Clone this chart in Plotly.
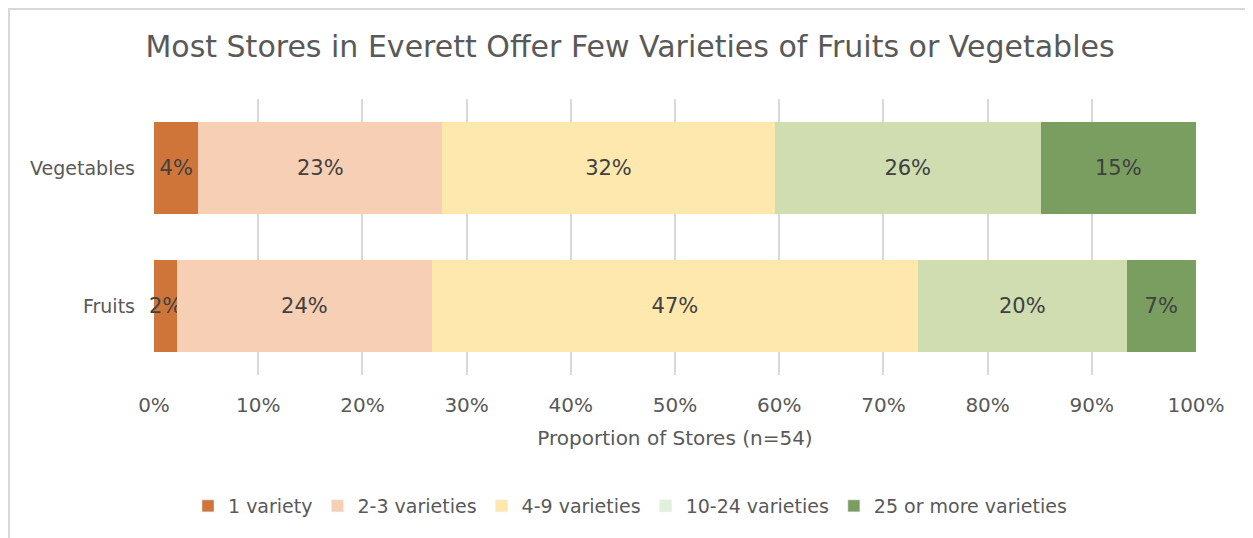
import plotly.graph_objects as go

categories = ["Vegetables", "Fruits"]
series_names = ["1 variety", "2-3 varieties", "4-9 varieties", "10-24 varieties", "25 or more varieties"]
veg_values = [0.0426, 0.2340, 0.3191, 0.2553, 0.1489]
fruit_values = [0.0222, 0.2444, 0.4667, 0.2000, 0.0667]
bar_colors = ["#D0753A", "#F7CFB4", "#FFE8AE", "#CFDDB0", "#7A9D60"]
legend_colors = ["#D0753A", "#F7CFB4", "#FFE8AE", "#E2EFDA", "#7A9D60"]
x_ticks = [0, 0.1, 0.2, 0.3, 0.4, 0.5, 0.6, 0.7, 0.8, 0.9, 1.0]
x_tick_labels = ["0%", "10%", "20%", "30%", "40%", "50%", "60%", "70%", "80%", "90%", "100%"]

FONT = "DejaVu Sans"
GREY = "#595959"

# plot area (figure px): x 146..1188, y 91..367
PL, PR, PT, PB = 146, 1188, 91, 367
PW, PH = PR - PL, PB - PT

fig = go.Figure()
for i, name in enumerate(series_names):
    fig.add_trace(go.Bar(
        y=categories, x=[veg_values[i], fruit_values[i]], orientation="h",
        name=name, marker=dict(color=bar_colors[i], line=dict(width=0)),
        texttemplate="%{x:.0%}", textposition="inside", insidetextanchor="middle",
        constraintext="none", textangle=0, cliponaxis=False,
        textfont=dict(family=FONT, size=21, color="#404040"),
        showlegend=False, hoverinfo="skip",
    ))
for i, name in enumerate(series_names):
    fig.add_trace(go.Bar(
        y=[None], x=[None], orientation="h", name=name,
        marker=dict(color=legend_colors[i]), showlegend=True,
    ))

fig.update_layout(
    barmode="stack", bargap=0.34,
    width=1253, height=538,
    margin=dict(l=PL, r=1253 - PR, t=PT, b=538 - PB),
    paper_bgcolor="white", plot_bgcolor="white",
    font=dict(family=FONT, color=GREY),
    title=dict(text="Most Stores in Everett Offer Few Varieties of Fruits or Vegetables",
               x=622 / 1253, xref="container", xanchor="center", y=1 - 38 / 538, yanchor="middle",
               font=dict(family=FONT, size=30, color=GREY), automargin=False),
    xaxis=dict(range=[0, 1], tickvals=x_ticks, ticktext=x_tick_labels, automargin=False,
               showgrid=True, gridcolor="#D9D9D9", gridwidth=1.5, zeroline=False,
               tickfont=dict(family=FONT, size=20, color=GREY), ticks="",
               ticklabelstandoff=16,
               title=dict(text="Proportion of Stores (n=54)", standoff=14,
                          font=dict(family=FONT, size=20, color=GREY))),
    yaxis=dict(categoryorder="array", categoryarray=["Fruits", "Vegetables"], automargin=False,
               tickfont=dict(family=FONT, size=19, color=GREY), ticks="",
               ticklabelstandoff=18,
               showgrid=False, zeroline=False),
    legend=dict(orientation="h", x=(622 - PL) / PW, xanchor="center",
                y=(PB - 498) / PH, yanchor="middle",
                font=dict(family=FONT, size=19, color=GREY), traceorder="normal",
                itemwidth=30),
    shapes=[dict(type="rect", xref="paper", yref="paper",
                 x0=(1 - PL) / PW, x1=(1262 - PL) / PW,
                 y0=(PB - 548) / PH, y1=(PB - 1) / PH,
                 line=dict(color="#D9D9D9", width=2), layer="below")],
)

fig.write_html("out.html")
